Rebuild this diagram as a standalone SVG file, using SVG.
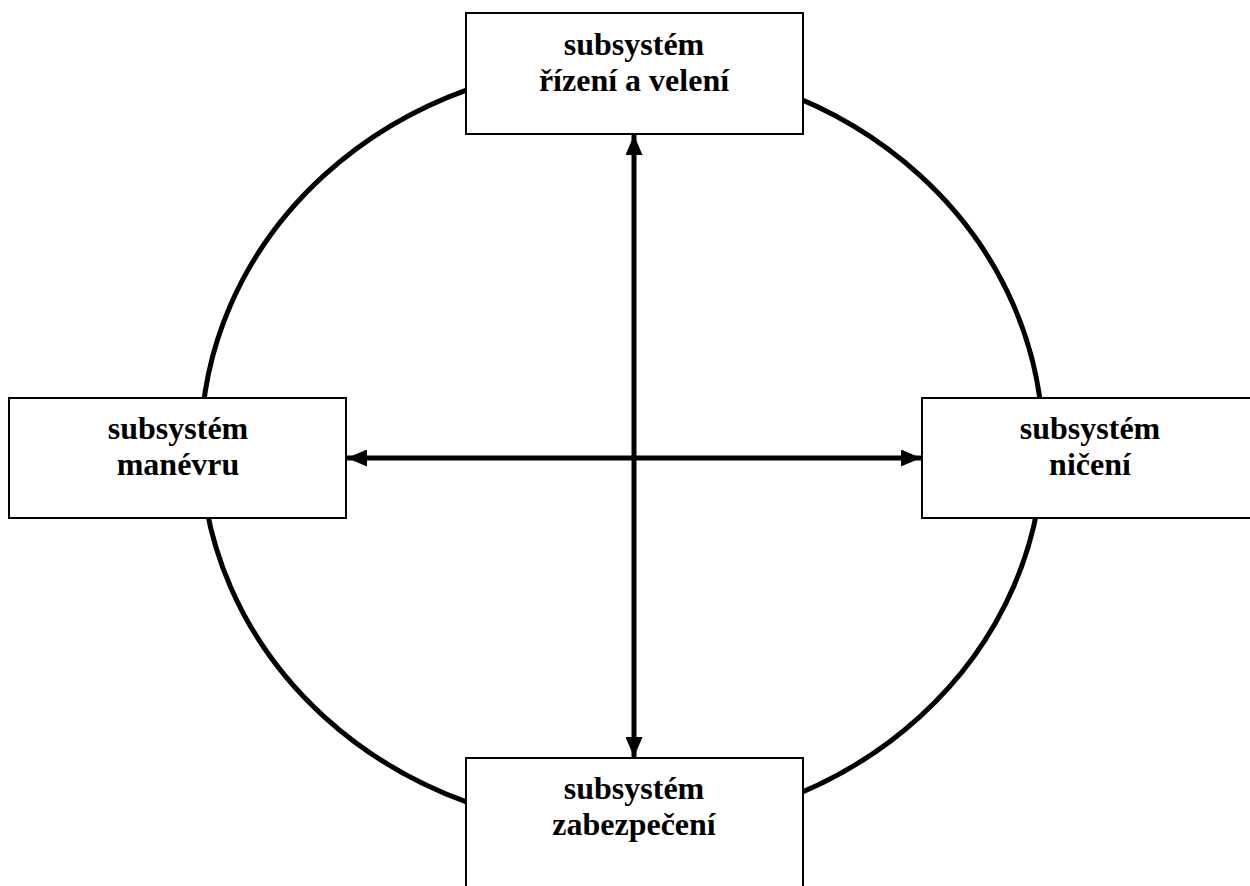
<svg xmlns="http://www.w3.org/2000/svg" width="1250" height="886" viewBox="0 0 1250 886">
<style>
.box{fill:#fff;stroke:#000;stroke-width:2}
.lbl{font-family:"Liberation Serif","Times New Roman",serif;font-weight:bold;font-size:32px;text-anchor:middle;fill:#000}
.conn{stroke:#000;stroke-width:5;fill:none}
</style>
<defs>
<marker id="ah" viewBox="0 0 20 17" refX="20" refY="8.5" markerWidth="20" markerHeight="17" markerUnits="userSpaceOnUse" orient="auto-start-reverse">
<path d="M0,0 L20,8.5 L0,17 Z" fill="#000"/>
</marker>
</defs>
<rect width="1250" height="886" fill="#fff"/>
<ellipse id="ring" cx="622" cy="446" rx="421" ry="383" fill="none" stroke="#000" stroke-width="5"/>
<g id="top">
<rect class="box" x="466" y="13" width="337" height="121"/>
<text class="lbl" x="634" y="55">subsystém</text>
<text class="lbl" x="634" y="91">řízení a velení</text>
</g>
<g id="left">
<rect class="box" x="9" y="398" width="337" height="120"/>
<text class="lbl" x="178" y="439">subsystém</text>
<text class="lbl" x="178" y="475">manévru</text>
</g>
<g id="right">
<rect class="box" x="922" y="398" width="337" height="120"/>
<text class="lbl" x="1090" y="439">subsystém</text>
<text class="lbl" x="1090" y="475">ničení</text>
</g>
<g id="bottom">
<rect class="box" x="466" y="758" width="337" height="140"/>
<text class="lbl" x="634" y="799">subsystém</text>
<text class="lbl" x="634" y="835">zabezpečení</text>
</g>
<g id="connectors">
<line class="conn" x1="634" y1="135" x2="634" y2="757" marker-start="url(#ah)" marker-end="url(#ah)"/>
<line class="conn" x1="347" y1="458" x2="921" y2="458" marker-start="url(#ah)" marker-end="url(#ah)"/>
</g>
</svg>
